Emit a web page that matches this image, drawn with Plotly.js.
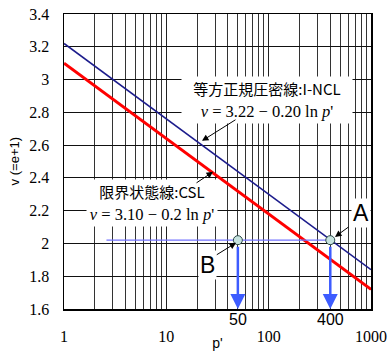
<!DOCTYPE html>
<html><head><meta charset="utf-8">
<script src="https://cdn.plot.ly/plotly-3.0.1.min.js"></script>
<style>html,body{margin:0;padding:0;background:#fff}</style>
</head><body>
<div id="chart" style="width:389px;height:351px"></div>
<script>
// Data
const pLine = [1, 1000];
const vNCL = [3.22, 1.84];
const vCSL = [3.10, 1.72];
const pGuide = [2.6, 420];
const vGuide = [2.02, 2.02];
const pPoints = [50, 400];
const vPoints = [2.02, 2.02];
const pointNames = ['B', 'A'];
const xTickVals = [1, 10, 100, 1000];
const xTickText = ['1', '10', '100', '1000'];
const arrowPs = [50, 400];
const arrowLabels = ['50', '400'];
const yBottom = 1.6;

const serif = 'Times New Roman';
const sans = 'Liberation Sans';
const cjk = 'Noto Sans CJK JP';

const traces = [
  {x: pLine, y: vNCL, mode: 'lines', line: {color: '#1c1c8c', width: 1.6}, hoverinfo: 'skip'},
  {x: pLine, y: vCSL, mode: 'lines', line: {color: '#ff0000', width: 3}, hoverinfo: 'skip'},
  {x: pGuide, y: vGuide, mode: 'lines', line: {color: '#7373ff', width: 1.3}, hoverinfo: 'skip'},
  {x: pPoints, y: vPoints, mode: 'markers', text: pointNames,
   marker: {size: 9, color: '#c6e3df', line: {color: '#2b4848', width: 1}}, hoverinfo: 'skip'}
];

const L = Math.log10;
const annotations = [];
// vertical blue arrows down to the axis
arrowPs.forEach((p, i) => {
  annotations.push({x: L(p), y: yBottom, xref: 'x', yref: 'y', axref: 'x', ayref: 'y',
    ax: L(p), ay: vPoints[i], text: '', showarrow: true, arrowhead: 2, arrowsize: 1.2,
    arrowwidth: 2.5, arrowcolor: '#3d5cff', standoff: 0, startstandoff: 5});
  annotations.push({x: L(p), y: -0.037, xref: 'x', yref: 'paper', xanchor: 'center', yanchor: 'middle',
    text: arrowLabels[i], showarrow: false, font: {family: sans, size: 16, color: '#000'}});
});
// label boxes
const box = (x, y, w, h, text, font) => ({x: x, y: y, xref: 'paper', yref: 'paper',
  xanchor: 'center', yanchor: 'middle', text: text,
  showarrow: false, bgcolor: '#fff', width: w, height: h, borderpad: 0, font: font});
annotations.push(box(0.661, 0.746, 170, 23, '等方正規圧密線:I-NCL', {family: cjk, size: 15, color: '#000'}));
annotations.push(box(0.661, 0.671, 170, 23, '<i>v</i> = 3.22 − 0.20 ln <i>p</i>\'', {family: serif, size: 16.5, color: '#000'}));
annotations.push(box(0.287, 0.400, 130, 22, '限界状態線:CSL', {family: cjk, size: 15, color: '#000'}));
annotations.push(box(0.287, 0.322, 130, 24, '<i>v</i> = 3.10 − 0.2 ln <i>p</i>\'', {family: serif, size: 16.5, color: '#000'}));
// y-axis title
annotations.push({x: -0.16, y: 0.5, xref: 'paper', yref: 'paper', xanchor: 'center', yanchor: 'middle',
  text: 'v (=e+1)', textangle: -90, showarrow: false, font: {family: sans, size: 13, color: '#000'}});
// pointer arrows
const ptr = (p, v, ax, ay) => ({x: L(p), y: v, xref: 'x', yref: 'y', ax: ax, ay: ay, text: '',
  showarrow: true, arrowhead: 2, arrowsize: 1.3, arrowwidth: 1, arrowcolor: '#000', standoff: 0});
annotations.push(ptr(22.3, 2.626, 35, -22));
annotations.push(ptr(28.6, 2.437, -18, 12));
annotations.push(ptr(445, 2.04, 15, -11));
annotations.push(ptr(48, 2.004, -21, 13));
// A and B labels
annotations.push({x: 0.968, y: 0.325, xref: 'paper', yref: 'paper', xanchor: 'center', yanchor: 'middle',
  text: 'A', showarrow: false, bgcolor: '#fff', font: {family: sans, size: 23, color: '#000'}});
annotations.push({x: 0.469, y: 0.149, xref: 'paper', yref: 'paper', xanchor: 'center', yanchor: 'middle',
  text: 'B', showarrow: false, bgcolor: '#fff', font: {family: sans, size: 23, color: '#000'}});

const layout = {
  width: 389, height: 351,
  margin: {l: 64, r: 18, t: 14, b: 42},
  paper_bgcolor: '#fff', plot_bgcolor: '#fff',
  showlegend: false,
  xaxis: {
    type: 'log', range: [0, 3], tickvals: xTickVals, ticktext: xTickText,
    showgrid: true, gridcolor: '#222', gridwidth: 1,
    minor: {dtick: 'D1', showgrid: true, gridcolor: '#333', gridwidth: 1, ticks: ''},
    showline: true, linecolor: '#000', linewidth: 1.5, mirror: true,
    ticks: '', ticklabelstandoff: 12, zeroline: false,
    tickfont: {family: serif, size: 16, color: '#000'},
    title: {text: "p'", font: {family: sans, size: 14, color: '#000'}, standoff: 0}
  },
  yaxis: {
    range: [1.6, 3.4], dtick: 0.2, tick0: 1.6,
    showgrid: true, gridcolor: '#111', gridwidth: 1,
    showline: true, linecolor: '#000', linewidth: 1.5, mirror: true,
    ticks: '', ticklabelstandoff: 10, zeroline: false,
    tickfont: {family: serif, size: 16, color: '#000'}
  },
  annotations: annotations
};
Plotly.newPlot('chart', traces, layout, {displayModeBar: false, staticPlot: true});
</script>
</body></html>
